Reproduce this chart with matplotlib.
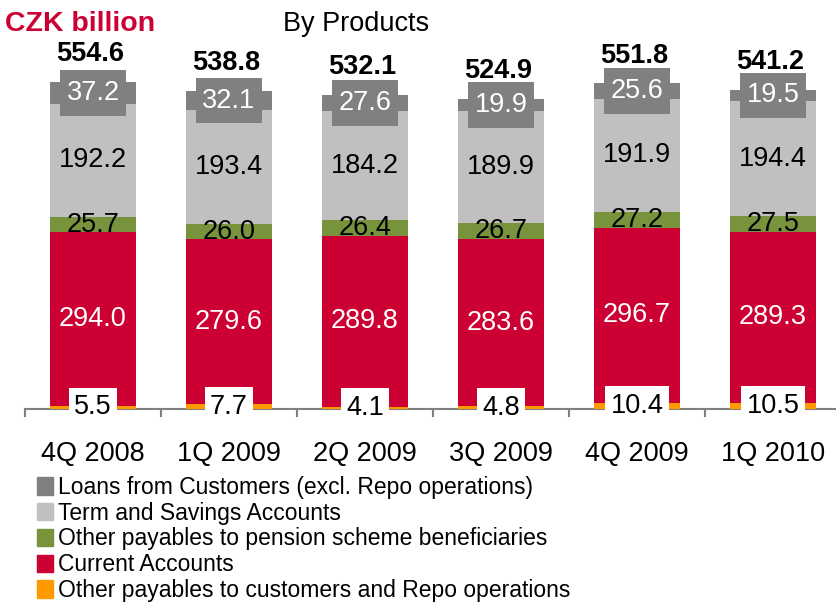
import numpy as np
import matplotlib
matplotlib.use("Agg")
import matplotlib.pyplot as plt
from matplotlib.patches import Patch
from matplotlib.path import Path

plt.rcParams['font.family'] = ['Liberation Sans', 'DejaVu Sans']

quarters = ['4Q 2008', '1Q 2009', '2Q 2009', '3Q 2009', '4Q 2009', '1Q 2010']
other_repo = [5.5, 7.7, 4.1, 4.8, 10.4, 10.5]
current = [294.0, 279.6, 289.8, 283.6, 296.7, 289.3]
pension = [25.7, 26.0, 26.4, 26.7, 27.2, 27.5]
term = [192.2, 193.4, 184.2, 189.9, 191.9, 194.4]
loans = [37.2, 32.1, 27.6, 19.9, 25.6, 19.5]
totals = [554.6, 538.8, 532.1, 524.9, 551.8, 541.2]

c_orange = '#ff9900'
c_red = '#cc0033'
c_green = '#77933c'
c_light = '#c0c0c0'
c_dark = '#808080'


def make_box(padx, pady):
    # rectangular label box with separate horizontal / vertical padding
    def box(x0, y0, width, height, mutation_size):
        px, py = padx * mutation_size, pady * mutation_size
        verts = [(x0 - px, y0 - py), (x0 + width + px, y0 - py),
                 (x0 + width + px, y0 + height + py), (x0 - px, y0 + height + py),
                 (x0 - px, y0 - py)]
        return Path(verts, closed=True)
    return box


fig = plt.figure(figsize=(8.37, 6.02), dpi=100)
ax = fig.add_axes([25/837, 193/602, 816/837, 364/602])

x = np.arange(len(quarters))
w = 0.63
fs = 19.5

series = [
    (other_repo, c_orange, 'Other payables to customers and Repo operations'),
    (current, c_red, 'Current Accounts'),
    (pension, c_green, 'Other payables to pension scheme beneficiaries'),
    (term, c_light, 'Term and Savings Accounts'),
    (loans, c_dark, 'Loans from Customers (excl. Repo operations)'),
]

bottom = np.zeros(len(quarters))
for vals, col, lab in series:
    vals = np.array(vals)
    ax.bar(x, vals, w, bottom=bottom, color=col, zorder=2)
    for i, v in enumerate(vals):
        yc = bottom[i] + v / 2
        txt = f'{v:.1f}'
        if col == c_orange:
            ax.text(i, yc, txt, ha='center', va='center', fontsize=fs, color='black', zorder=5,
                    bbox=dict(boxstyle=make_box(0.2, 0.25), fc='white', ec='none'))
        elif col == c_dark:
            ax.text(i, yc, txt, ha='center', va='center', fontsize=fs, color='white', zorder=5,
                    bbox=dict(boxstyle=make_box(0.25, 0.36), fc=c_dark, ec='none'))
        elif col == c_red:
            ax.text(i, yc, txt, ha='center', va='center', fontsize=fs, color='white', zorder=5)
        else:
            ax.text(i, yc, txt, ha='center', va='center', fontsize=fs, color='black', zorder=5)
    bottom += vals

for i, t in enumerate(totals):
    ax.annotate(f'{t:.1f}', (i, bottom[i]), xytext=(-2, 15), textcoords='offset points',
                ha='center', va='baseline', fontsize=fs, fontweight='bold')

ax.set_xlim(-0.5, len(quarters) - 0.5)
ax.set_ylim(0, 364 / 0.59)
for s in ['top', 'right', 'left']:
    ax.spines[s].set_visible(False)
ax.spines['bottom'].set_color('#808080')
ax.spines['bottom'].set_linewidth(1.5)
ax.spines['bottom'].set_zorder(1)
ax.set_yticks([])
ax.set_xticks(x)
ax.set_xticklabels(quarters, fontsize=fs)
ax.tick_params(axis='x', which='major', length=0, pad=23)
ax.set_xticks(np.arange(-0.5, len(quarters), 1), minor=True)
ax.tick_params(axis='x', which='minor', length=6, width=1.5, color='#808080', direction='out')

fig.text(5/837, 1 - 31/602, 'CZK billion', color=c_red, fontsize=20.5, fontweight='bold',
         ha='left', va='baseline')
fig.text(283/837, 1 - 31/602, 'By Products', color='black', fontsize=19.5,
         ha='left', va='baseline')

handles = [Patch(color=col) for _, col, _ in series][::-1]
labels = [lab for _, _, lab in series][::-1]
fig.legend(handles, labels, loc='upper left', bbox_to_anchor=(37/837, 1 - 476/602),
           frameon=False, prop=dict(size=16.5),
           handlelength=0.68, handleheight=0.78, handletextpad=0.25, labelspacing=0.12,
           borderpad=0, borderaxespad=0)

fig.savefig('out.png', dpi=100)
